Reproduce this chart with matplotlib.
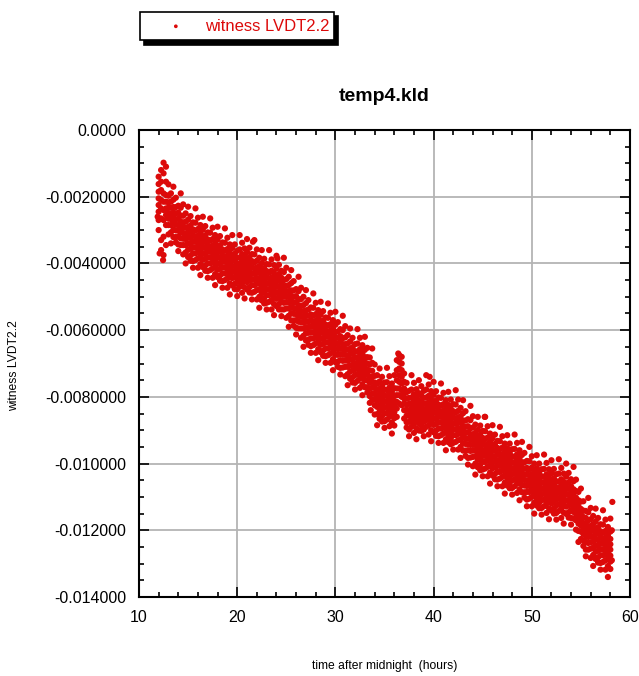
import matplotlib
matplotlib.use("Agg")
import matplotlib.pyplot as plt
from matplotlib.ticker import MultipleLocator
import numpy as np

plt.rcParams['font.family'] = ['Liberation Sans', 'DejaVu Sans']

title = "temp4.kld"
series_name = "witness LVDT2.2"
x_label = "time after midnight  (hours)"
y_label = "witness LVDT2.2"
x_ticks = [10, 20, 30, 40, 50, 60]
y_ticks = [0.0, -0.002, -0.004, -0.006, -0.008, -0.010, -0.012, -0.014]
y_tick_labels = ["0.0000", "-0.0020000", "-0.0040000", "-0.0060000",
                 "-0.0080000", "-0.010000", "-0.012000", "-0.014000"]

# sample times (hours after midnight), one group of readings per time
hours = [
    12.00, 12.25, 12.50, 12.75, 13.00, 13.25, 13.50, 13.75, 14.00, 14.25,
    14.50, 14.75, 15.00, 15.25, 15.50, 15.75, 16.00, 16.25, 16.50, 16.75,
    17.00, 17.25, 17.50, 17.75, 18.00, 18.25, 18.50, 18.75, 19.00, 19.25,
    19.50, 19.75, 20.00, 20.25, 20.50, 20.75, 21.00, 21.25, 21.50, 21.75,
    22.00, 22.25, 22.50, 22.75, 23.00, 23.25, 23.50, 23.75, 24.00, 24.25,
    24.50, 24.75, 25.00, 25.25, 25.50, 25.75, 26.00, 26.25, 26.50, 26.75,
    27.00, 27.25, 27.50, 27.75, 28.00, 28.25, 28.50, 28.75, 29.00, 29.25,
    29.50, 29.75, 30.00, 30.25, 30.50, 30.75, 31.00, 31.25, 31.50, 31.75,
    32.00, 32.25, 32.50, 32.75, 33.00, 33.25, 33.50, 33.75, 34.00, 34.25,
    34.50, 34.75, 35.00, 35.25, 35.50, 35.75, 36.00, 36.25, 36.50, 36.75,
    37.00, 37.25, 37.50, 37.75, 38.00, 38.25, 38.50, 38.75, 39.00, 39.25,
    39.50, 39.75, 40.00, 40.25, 40.50, 40.75, 41.00, 41.25, 41.50, 41.75,
    42.00, 42.25, 42.50, 42.75, 43.00, 43.25, 43.50, 43.75, 44.00, 44.25,
    44.50, 44.75, 45.00, 45.25, 45.50, 45.75, 46.00, 46.25, 46.50, 46.75,
    47.00, 47.25, 47.50, 47.75, 48.00, 48.25, 48.50, 48.75, 49.00, 49.25,
    49.50, 49.75, 50.00, 50.25, 50.50, 50.75, 51.00, 51.25, 51.50, 51.75,
    52.00, 52.25, 52.50, 52.75, 53.00, 53.25, 53.50, 53.75, 54.00, 54.25,
    54.50, 54.75, 55.00, 55.25, 55.50, 55.75, 56.00, 56.25, 56.50, 56.75,
    57.00, 57.25, 57.50, 57.75, 58.00,
]

# readings at each time, in units of 1e-3
lvdt_milli = [
    [-1.40, -1.62, -1.85, -2.05, -2.25, -2.45, -2.70, -3.00],
    [-1.20, -1.55, -1.80, -2.10, -2.35, -2.65, -3.30, -3.60],
    [-0.98, -1.30, -1.90, -2.15, -2.40, -2.70, -3.20, -3.75],
    [-1.10, -1.55, -1.95, -2.15, -2.35, -2.55, -2.85, -3.45],
    [-1.63, -1.97, -2.17, -2.33, -2.49, -2.66, -2.85, -3.13],
    [-1.90, -2.15, -2.33, -2.51, -2.67, -2.85, -3.07, -3.40],
    [-1.70, -2.09, -2.31, -2.47, -2.63, -2.81, -2.99, -3.21],
    [-2.03, -2.31, -2.50, -2.68, -2.84, -3.01, -3.21, -3.37],
    [-2.27, -2.48, -2.66, -2.85, -3.02, -3.20, -3.43, -3.63],
    [-1.90, -2.33, -2.57, -2.75, -2.90, -3.07, -3.25, -3.45],
    [-2.23, -2.57, -2.77, -2.93, -3.09, -3.26, -3.45, -3.73],
    [-2.50, -2.75, -2.93, -3.11, -3.27, -3.45, -3.67, -4.00],
    [-2.30, -2.69, -2.91, -3.07, -3.23, -3.41, -3.59, -3.81],
    [-2.58, -2.86, -3.05, -3.23, -3.39, -3.56, -3.76, -3.92],
    [-2.77, -2.98, -3.16, -3.35, -3.52, -3.70, -3.93, -4.13],
    [-2.35, -2.78, -3.02, -3.20, -3.35, -3.52, -3.70, -3.90],
    [-2.63, -2.97, -3.17, -3.33, -3.49, -3.66, -3.85, -4.13],
    [-2.85, -3.10, -3.28, -3.46, -3.62, -3.80, -4.02, -4.35],
    [-2.60, -2.99, -3.21, -3.37, -3.53, -3.71, -3.89, -4.11],
    [-2.88, -3.16, -3.35, -3.53, -3.69, -3.86, -4.06, -4.22],
    [-3.07, -3.28, -3.46, -3.65, -3.82, -4.00, -4.23, -4.43],
    [-2.65, -3.08, -3.32, -3.50, -3.65, -3.82, -4.00, -4.20],
    [-2.93, -3.27, -3.47, -3.63, -3.79, -3.96, -4.15, -4.43],
    [-3.15, -3.40, -3.58, -3.76, -3.92, -4.10, -4.32, -4.65],
    [-2.90, -3.29, -3.51, -3.67, -3.83, -4.01, -4.19, -4.41],
    [-3.18, -3.46, -3.65, -3.83, -3.99, -4.16, -4.36, -4.52],
    [-3.37, -3.58, -3.76, -3.95, -4.12, -4.30, -4.53, -4.73],
    [-2.95, -3.38, -3.62, -3.80, -3.95, -4.12, -4.30, -4.50],
    [-3.23, -3.57, -3.77, -3.93, -4.09, -4.26, -4.45, -4.73],
    [-3.43, -3.68, -3.86, -4.04, -4.20, -4.38, -4.60, -4.93],
    [-3.15, -3.54, -3.76, -3.92, -4.08, -4.26, -4.44, -4.66],
    [-3.43, -3.71, -3.90, -4.08, -4.24, -4.41, -4.61, -4.77],
    [-3.62, -3.83, -4.01, -4.20, -4.37, -4.55, -4.78, -4.98],
    [-3.15, -3.58, -3.82, -4.00, -4.15, -4.32, -4.50, -4.70],
    [-3.38, -3.72, -3.92, -4.08, -4.24, -4.41, -4.60, -4.88],
    [-3.55, -3.80, -3.98, -4.16, -4.32, -4.50, -4.72, -5.05],
    [-3.27, -3.66, -3.88, -4.04, -4.20, -4.38, -4.56, -4.78],
    [-3.53, -3.81, -4.00, -4.18, -4.34, -4.51, -4.71, -4.87],
    [-3.72, -3.93, -4.11, -4.30, -4.47, -4.65, -4.88, -5.08],
    [-3.30, -3.73, -3.97, -4.15, -4.30, -4.47, -4.65, -4.85],
    [-3.58, -3.92, -4.12, -4.28, -4.44, -4.61, -4.80, -5.08],
    [-3.83, -4.08, -4.26, -4.44, -4.60, -4.78, -5.00, -5.33],
    [-3.60, -3.99, -4.21, -4.37, -4.53, -4.71, -4.89, -5.11],
    [-3.86, -4.14, -4.33, -4.51, -4.67, -4.84, -5.04, -5.20],
    [-4.02, -4.23, -4.41, -4.60, -4.77, -4.95, -5.18, -5.38],
    [-3.60, -4.03, -4.27, -4.45, -4.60, -4.77, -4.95, -5.15],
    [-3.88, -4.22, -4.42, -4.58, -4.74, -4.91, -5.10, -5.38],
    [-4.05, -4.30, -4.48, -4.66, -4.82, -5.00, -5.22, -5.55],
    [-3.77, -4.16, -4.38, -4.54, -4.70, -4.88, -5.06, -5.28],
    [-4.04, -4.32, -4.51, -4.69, -4.85, -5.02, -5.22, -5.38],
    [-4.22, -4.43, -4.61, -4.80, -4.97, -5.15, -5.38, -5.58],
    [-3.83, -4.26, -4.50, -4.68, -4.83, -5.00, -5.18, -5.38],
    [-4.13, -4.47, -4.67, -4.83, -4.99, -5.16, -5.35, -5.63],
    [-4.40, -4.65, -4.83, -5.01, -5.17, -5.35, -5.57, -5.90],
    [-4.20, -4.59, -4.81, -4.97, -5.13, -5.31, -5.49, -5.71],
    [-4.53, -4.81, -5.00, -5.18, -5.34, -5.51, -5.71, -5.87],
    [-4.77, -4.98, -5.16, -5.35, -5.52, -5.70, -5.93, -6.13],
    [-4.40, -4.83, -5.07, -5.25, -5.40, -5.57, -5.75, -5.95],
    [-4.73, -5.07, -5.27, -5.43, -5.59, -5.76, -5.95, -6.23],
    [-5.00, -5.25, -5.43, -5.61, -5.77, -5.95, -6.17, -6.50],
    [-4.80, -5.19, -5.41, -5.57, -5.73, -5.91, -6.09, -6.31],
    [-5.10, -5.38, -5.57, -5.75, -5.91, -6.08, -6.28, -6.44],
    [-5.32, -5.53, -5.71, -5.90, -6.07, -6.25, -6.48, -6.68],
    [-4.90, -5.33, -5.57, -5.75, -5.90, -6.07, -6.25, -6.45],
    [-5.18, -5.52, -5.72, -5.88, -6.04, -6.21, -6.40, -6.68],
    [-5.40, -5.65, -5.83, -6.01, -6.17, -6.35, -6.57, -6.90],
    [-5.15, -5.54, -5.76, -5.92, -6.08, -6.26, -6.44, -6.66],
    [-5.43, -5.71, -5.90, -6.08, -6.24, -6.41, -6.61, -6.77],
    [-5.62, -5.83, -6.01, -6.20, -6.37, -6.55, -6.78, -6.98],
    [-5.20, -5.63, -5.87, -6.05, -6.20, -6.37, -6.55, -6.75],
    [-5.48, -5.82, -6.02, -6.18, -6.34, -6.51, -6.70, -6.98],
    [-5.70, -5.95, -6.13, -6.31, -6.47, -6.65, -6.87, -7.20],
    [-5.45, -5.84, -6.06, -6.22, -6.38, -6.56, -6.74, -6.96],
    [-5.76, -6.04, -6.23, -6.41, -6.57, -6.74, -6.94, -7.10],
    [-5.97, -6.18, -6.36, -6.55, -6.72, -6.90, -7.13, -7.33],
    [-5.57, -6.00, -6.24, -6.42, -6.57, -6.74, -6.92, -7.12],
    [-5.88, -6.22, -6.42, -6.58, -6.74, -6.91, -7.10, -7.38],
    [-6.15, -6.40, -6.58, -6.76, -6.92, -7.10, -7.32, -7.65],
    [-5.95, -6.34, -6.56, -6.72, -6.88, -7.06, -7.24, -7.46],
    [-6.23, -6.51, -6.70, -6.88, -7.04, -7.21, -7.41, -7.57],
    [-6.42, -6.63, -6.81, -7.00, -7.17, -7.35, -7.58, -7.78],
    [-5.97, -6.40, -6.64, -6.82, -6.97, -7.14, -7.32, -7.52],
    [-6.23, -6.57, -6.77, -6.93, -7.09, -7.26, -7.45, -7.73],
    [-6.45, -6.70, -6.88, -7.06, -7.22, -7.40, -7.62, -7.95],
    [-6.20, -6.59, -6.81, -6.97, -7.13, -7.31, -7.49, -7.71],
    [-6.53, -6.81, -7.00, -7.18, -7.34, -7.51, -7.71, -7.87],
    [-6.82, -7.03, -7.21, -7.40, -7.57, -7.75, -7.98, -8.18],
    [-6.55, -6.98, -7.22, -7.40, -7.55, -7.72, -7.90, -8.10],
    [-7.03, -7.37, -7.57, -7.73, -7.89, -8.06, -8.25, -8.53],
    [-7.35, -7.60, -7.78, -7.96, -8.12, -8.30, -8.52, -8.85],
    [-7.15, -7.54, -7.76, -7.92, -8.08, -8.26, -8.44, -8.66],
    [-7.40, -7.68, -7.87, -8.05, -8.21, -8.38, -8.58, -8.74],
    [-7.57, -7.78, -7.96, -8.15, -8.32, -8.50, -8.73, -8.93],
    [-7.13, -7.56, -7.80, -7.98, -8.13, -8.30, -8.48, -8.68],
    [-7.38, -7.72, -7.92, -8.08, -8.24, -8.41, -8.60, -8.88],
    [-7.60, -7.85, -8.03, -8.21, -8.37, -8.55, -8.77, -9.10],
    [-7.35, -7.74, -7.96, -8.12, -8.28, -8.46, -8.64, -8.86],
    [-6.90, -7.20, -7.50, -7.75, -7.95, -8.15, -8.35, -8.60],
    [-6.75, -6.95, -7.15, -7.35, -7.55, -7.75, -7.95, -8.20],
    [-6.80, -7.00, -7.20, -7.40, -7.60, -7.80, -8.00, -8.25],
    [-7.30, -7.55, -7.75, -7.90, -8.05, -8.20, -8.40, -8.65],
    [-7.58, -7.86, -8.05, -8.23, -8.39, -8.56, -8.76, -8.92],
    [-7.82, -8.03, -8.21, -8.40, -8.57, -8.75, -8.98, -9.18],
    [-7.35, -7.78, -8.02, -8.20, -8.35, -8.52, -8.70, -8.90],
    [-7.58, -7.92, -8.12, -8.28, -8.44, -8.61, -8.80, -9.08],
    [-7.77, -8.02, -8.20, -8.38, -8.54, -8.72, -8.94, -9.27],
    [-7.50, -7.89, -8.11, -8.27, -8.43, -8.61, -8.79, -9.01],
    [-7.68, -7.96, -8.15, -8.33, -8.49, -8.66, -8.86, -9.02],
    [-7.82, -8.03, -8.21, -8.40, -8.57, -8.75, -8.98, -9.18],
    [-7.35, -7.78, -8.02, -8.20, -8.35, -8.52, -8.70, -8.90],
    [-7.63, -7.97, -8.17, -8.33, -8.49, -8.66, -8.85, -9.13],
    [-7.83, -8.08, -8.26, -8.44, -8.60, -8.78, -9.00, -9.33],
    [-7.55, -7.94, -8.16, -8.32, -8.48, -8.66, -8.84, -9.06],
    [-7.83, -8.11, -8.30, -8.48, -8.64, -8.81, -9.01, -9.17],
    [-8.02, -8.23, -8.41, -8.60, -8.77, -8.95, -9.18, -9.38],
    [-7.60, -8.03, -8.27, -8.45, -8.60, -8.77, -8.95, -9.15],
    [-7.88, -8.22, -8.42, -8.58, -8.74, -8.91, -9.10, -9.38],
    [-8.10, -8.35, -8.53, -8.71, -8.87, -9.05, -9.27, -9.60],
    [-7.85, -8.24, -8.46, -8.62, -8.78, -8.96, -9.14, -9.36],
    [-8.08, -8.36, -8.55, -8.73, -8.89, -9.06, -9.26, -9.42],
    [-8.22, -8.43, -8.61, -8.80, -8.97, -9.15, -9.38, -9.58],
    [-7.80, -8.23, -8.47, -8.65, -8.80, -8.97, -9.15, -9.35],
    [-8.08, -8.42, -8.62, -8.78, -8.94, -9.11, -9.30, -9.58],
    [-8.33, -8.58, -8.76, -8.94, -9.10, -9.28, -9.50, -9.83],
    [-8.10, -8.49, -8.71, -8.87, -9.03, -9.21, -9.39, -9.61],
    [-8.43, -8.71, -8.90, -9.08, -9.24, -9.41, -9.61, -9.77],
    [-8.67, -8.88, -9.06, -9.25, -9.42, -9.60, -9.83, -10.03],
    [-8.27, -8.70, -8.94, -9.12, -9.27, -9.44, -9.62, -9.82],
    [-8.58, -8.92, -9.12, -9.28, -9.44, -9.61, -9.80, -10.08],
    [-8.83, -9.08, -9.26, -9.44, -9.60, -9.78, -10.00, -10.33],
    [-8.60, -8.99, -9.21, -9.37, -9.53, -9.71, -9.89, -10.11],
    [-8.86, -9.14, -9.33, -9.51, -9.67, -9.84, -10.04, -10.20],
    [-9.02, -9.23, -9.41, -9.60, -9.77, -9.95, -10.18, -10.38],
    [-8.60, -9.03, -9.27, -9.45, -9.60, -9.77, -9.95, -10.15],
    [-8.88, -9.22, -9.42, -9.58, -9.74, -9.91, -10.10, -10.38],
    [-9.10, -9.35, -9.53, -9.71, -9.87, -10.05, -10.27, -10.60],
    [-8.85, -9.24, -9.46, -9.62, -9.78, -9.96, -10.14, -10.36],
    [-9.13, -9.41, -9.60, -9.78, -9.94, -10.11, -10.31, -10.47],
    [-9.32, -9.53, -9.71, -9.90, -10.07, -10.25, -10.48, -10.68],
    [-8.90, -9.33, -9.57, -9.75, -9.90, -10.07, -10.25, -10.45],
    [-9.18, -9.52, -9.72, -9.88, -10.04, -10.21, -10.40, -10.68],
    [-9.40, -9.65, -9.83, -10.01, -10.17, -10.35, -10.57, -10.90],
    [-9.15, -9.54, -9.76, -9.92, -10.08, -10.26, -10.44, -10.66],
    [-9.40, -9.68, -9.87, -10.05, -10.21, -10.38, -10.58, -10.74],
    [-9.57, -9.78, -9.96, -10.15, -10.32, -10.50, -10.73, -10.93],
    [-9.13, -9.56, -9.80, -9.98, -10.13, -10.30, -10.48, -10.68],
    [-9.38, -9.72, -9.92, -10.08, -10.24, -10.41, -10.60, -10.88],
    [-9.60, -9.85, -10.03, -10.21, -10.37, -10.55, -10.77, -11.10],
    [-9.35, -9.74, -9.96, -10.12, -10.28, -10.46, -10.64, -10.86],
    [-9.68, -9.96, -10.15, -10.33, -10.49, -10.66, -10.86, -11.02],
    [-9.92, -10.13, -10.31, -10.50, -10.67, -10.85, -11.08, -11.28],
    [-9.50, -9.93, -10.17, -10.35, -10.50, -10.67, -10.85, -11.05],
    [-9.78, -10.12, -10.32, -10.48, -10.64, -10.81, -11.00, -11.28],
    [-10.00, -10.25, -10.43, -10.61, -10.77, -10.95, -11.17, -11.50],
    [-9.75, -10.14, -10.36, -10.52, -10.68, -10.86, -11.04, -11.26],
    [-10.00, -10.28, -10.47, -10.65, -10.81, -10.98, -11.18, -11.34],
    [-10.17, -10.38, -10.56, -10.75, -10.92, -11.10, -11.33, -11.53],
    [-9.73, -10.16, -10.40, -10.58, -10.73, -10.90, -11.08, -11.28],
    [-9.98, -10.32, -10.52, -10.68, -10.84, -11.01, -11.20, -11.48],
    [-10.17, -10.42, -10.60, -10.78, -10.94, -11.12, -11.34, -11.67],
    [-9.90, -10.29, -10.51, -10.67, -10.83, -11.01, -11.19, -11.41],
    [-10.16, -10.44, -10.63, -10.81, -10.97, -11.14, -11.34, -11.50],
    [-10.32, -10.53, -10.71, -10.90, -11.07, -11.25, -11.48, -11.68],
    [-9.87, -10.30, -10.54, -10.72, -10.87, -11.04, -11.22, -11.42],
    [-10.13, -10.47, -10.67, -10.83, -10.99, -11.16, -11.35, -11.63],
    [-10.30, -10.55, -10.73, -10.91, -11.07, -11.25, -11.47, -11.80],
    [-10.00, -10.39, -10.61, -10.77, -10.93, -11.11, -11.29, -11.51],
    [-10.28, -10.56, -10.75, -10.93, -11.09, -11.26, -11.46, -11.62],
    [-10.47, -10.68, -10.86, -11.05, -11.22, -11.40, -11.63, -11.83],
    [-10.10, -10.53, -10.77, -10.95, -11.10, -11.27, -11.45, -11.65],
    [-10.48, -10.82, -11.02, -11.18, -11.34, -11.51, -11.70, -11.98],
    [-10.85, -11.10, -11.28, -11.46, -11.62, -11.80, -12.02, -12.35],
    [-10.75, -11.14, -11.36, -11.52, -11.68, -11.86, -12.04, -12.26],
    [-11.13, -11.41, -11.60, -11.78, -11.94, -12.11, -12.31, -12.47],
    [-11.42, -11.63, -11.81, -12.00, -12.17, -12.35, -12.58, -12.78],
    [-11.03, -11.46, -11.70, -11.88, -12.03, -12.20, -12.38, -12.58],
    [-11.33, -11.67, -11.87, -12.03, -12.19, -12.36, -12.55, -12.83],
    [-11.57, -11.82, -12.00, -12.18, -12.34, -12.52, -12.74, -13.07],
    [-11.35, -11.74, -11.96, -12.12, -12.28, -12.46, -12.64, -12.86],
    [-11.63, -11.91, -12.10, -12.28, -12.44, -12.61, -12.81, -12.97],
    [-11.82, -12.03, -12.21, -12.40, -12.57, -12.75, -12.98, -13.18],
    [-11.40, -11.83, -12.07, -12.25, -12.40, -12.57, -12.75, -12.95],
    [-11.68, -12.02, -12.22, -12.38, -12.54, -12.71, -12.90, -13.18],
    [-11.90, -12.15, -12.33, -12.51, -12.67, -12.85, -13.07, -13.40],
    [-11.65, -12.04, -12.26, -12.42, -12.58, -12.76, -12.94, -13.16],
]

# isolated readings away from the main groups
extra_hours = [11.90, 12.10, 12.45, 21.60, 24.10, 33.60, 36.40, 39.60, 45.20, 58.20, 58.15, 58.15]
extra_milli = [-2.60, -3.70, -3.90, -3.35, -3.85, -8.40, -6.70, -7.40, -8.60, -11.15, -12.00, -12.90]

# flatten
xs, ys = [], []
for h, vals in zip(hours, lvdt_milli):
    for v in vals:
        xs.append(h)
        ys.append(v * 1e-3)
xs += extra_hours
ys += [v * 1e-3 for v in extra_milli]

W, H = 639, 676
fig = plt.figure(figsize=(W / 100, H / 100), dpi=100)
ax = fig.add_axes([139 / W, 1 - 597 / H, 491 / W, 467 / H])

red = '#dc0a0a'
ax.scatter(xs, ys, s=20, color=red, edgecolors='none', label=series_name, zorder=3)

ax.set_xlim(10, 60)
ax.set_ylim(-0.014, 0.0)
ax.set_xticks(x_ticks)
ax.set_xticklabels([str(t) for t in x_ticks])
ax.set_yticks(y_ticks)
ax.set_yticklabels(y_tick_labels)
ax.xaxis.set_minor_locator(MultipleLocator(2))
ax.yaxis.set_minor_locator(MultipleLocator(0.0005))
ax.grid(True, which='major', color='#b4b4b4', linewidth=1.3, zorder=0)
ax.set_axisbelow(True)
ax.tick_params(which='both', direction='in', top=True, right=True,
               labelsize=11.5, pad=9, colors='black', width=1.2)
ax.tick_params(which='major', length=7)
ax.tick_params(which='minor', length=3.5)
for sp in ax.spines.values():
    sp.set_linewidth(1.5)

ax.set_title(title, fontsize=14, fontweight='bold', pad=21)
fig.text(385 / W, 1 - 666 / H, x_label, ha='center', va='center', fontsize=8.7)
fig.text(14 / W, 1 - 366 / H, y_label, ha='center', va='center', rotation=90, fontsize=8.7)

handles, labels = ax.get_legend_handles_labels()
leg = fig.legend(handles, labels,
                 bbox_to_anchor=(140 / W, 1 - 40 / H, 194 / W, 28 / H),
                 loc='upper left', mode='expand', borderaxespad=0,
                 fontsize=12, labelcolor=red, fancybox=False,
                 edgecolor='black', framealpha=1, borderpad=0.4,
                 handlelength=3.5, handletextpad=0.0, markerscale=0.6,
                 shadow={'ox': 3, 'oy': -3, 'color': 'black', 'alpha': 1})
leg.get_frame().set_linewidth(1.2)

fig.savefig('out.png', dpi=100)
